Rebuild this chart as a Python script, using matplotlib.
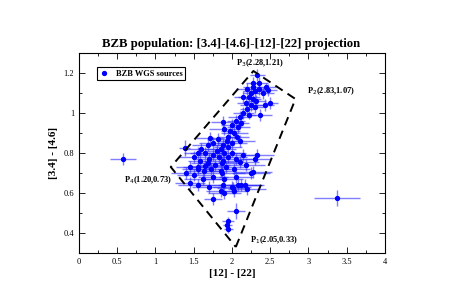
import numpy as np
import matplotlib.pyplot as plt
from matplotlib.ticker import MultipleLocator

plt.rcParams["font.family"] = ["Liberation Serif", "DejaVu Serif"]

# BZB WGS sources: [12]-[22] colour, [3.4]-[4.6] colour and their errors
c12_22 = [2.33, 2.27, 2.30, 2.25, 2.35, 2.22, 2.28, 2.32, 2.40, 2.45,
          2.18, 2.25, 2.20, 2.30, 2.15, 2.22, 2.10, 2.05, 2.12, 2.00,
          2.08, 1.98, 2.03, 1.95, 2.07, 1.93, 2.00, 1.88, 1.95, 2.10,
          1.85, 1.80, 1.90, 2.00, 1.75, 1.83, 1.95, 1.70, 1.65, 1.60,
          1.55, 1.50, 1.58, 1.68, 1.78, 1.88, 2.05, 2.15, 1.45, 1.55,
          1.63, 1.72, 1.85, 1.92, 2.02, 2.18, 2.30, 1.40, 1.50, 1.62,
          1.75, 1.87, 1.90, 2.05, 2.25, 1.45, 1.55, 1.70, 1.88, 2.00,
          2.08, 2.12, 2.20, 1.86, 1.90, 2.02, 1.75, 2.05, 1.95, 1.94,
          1.95, 1.38, 0.57, 3.37, 2.43, 2.37, 2.47, 2.50, 1.90, 1.82,
          1.75, 1.68, 2.15, 2.20, 2.28, 2.35, 1.71, 1.88, 2.33, 2.10,
          1.56, 1.65, 1.87, 2.27, 2.17, 2.01]
c34_46 = [1.19, 1.13, 1.11, 1.10, 1.12, 1.08, 1.07, 1.06, 1.10, 1.13,
          1.05, 1.04, 1.02, 1.03, 1.00, 0.99, 0.98, 0.96, 0.95, 0.94,
          0.93, 0.91, 0.90, 0.88, 0.88, 0.86, 0.85, 0.84, 0.83, 0.86,
          0.82, 0.81, 0.80, 0.80, 0.79, 0.78, 0.78, 0.77, 0.80, 0.82,
          0.80, 0.78, 0.76, 0.75, 0.74, 0.76, 0.77, 0.79, 0.73, 0.72,
          0.71, 0.72, 0.71, 0.73, 0.72, 0.74, 0.77, 0.70, 0.69, 0.67,
          0.68, 0.70, 0.67, 0.68, 0.70, 0.65, 0.64, 0.63, 0.64, 0.63,
          0.64, 0.64, 0.62, 0.61, 0.60, 0.61, 0.57, 0.51, 0.46, 0.44,
          0.42, 0.825, 0.77, 0.575, 1.04, 0.99, 1.115, 1.05, 0.92, 0.87,
          0.85, 0.84, 1.08, 1.12, 1.15, 1.15, 0.875, 0.955, 0.79, 0.755,
          0.73, 0.735, 0.75, 0.705, 0.64, 0.625]
err_x = [0.10, 0.12, 0.15, 0.10, 0.12, 0.14, 0.10, 0.13, 0.15, 0.12,
         0.12, 0.15, 0.10, 0.12, 0.14, 0.10, 0.15, 0.12, 0.10, 0.14,
         0.15, 0.12, 0.18, 0.14, 0.15, 0.12, 0.20, 0.15, 0.18, 0.20,
         0.20, 0.15, 0.22, 0.18, 0.20, 0.15, 0.25, 0.18, 0.20, 0.22,
         0.18, 0.20, 0.15, 0.22, 0.20, 0.25, 0.22, 0.20, 0.18, 0.20,
         0.22, 0.25, 0.20, 0.28, 0.22, 0.25, 0.20, 0.20, 0.22, 0.25,
         0.20, 0.30, 0.25, 0.22, 0.25, 0.20, 0.25, 0.22, 0.30, 0.25,
         0.28, 0.30, 0.25, 0.20, 0.22, 0.18, 0.12, 0.12, 0.08, 0.06,
         0.06, 0.07, 0.17, 0.30, 0.12, 0.15, 0.12, 0.10, 0.20, 0.15,
         0.18, 0.20, 0.12, 0.15, 0.10, 0.12, 0.18, 0.15, 0.22, 0.25,
         0.20, 0.22, 0.25, 0.25, 0.22, 0.20]
err_y = [0.03, 0.03, 0.03, 0.02, 0.03, 0.03, 0.02, 0.03, 0.03, 0.02,
         0.03, 0.03, 0.02, 0.03, 0.03, 0.02, 0.03, 0.03, 0.02, 0.03,
         0.03, 0.03, 0.03, 0.03, 0.02, 0.03, 0.03, 0.03, 0.02, 0.03,
         0.03, 0.03, 0.03, 0.02, 0.03, 0.03, 0.03, 0.03, 0.03, 0.03,
         0.03, 0.03, 0.03, 0.03, 0.03, 0.03, 0.03, 0.03, 0.03, 0.03,
         0.03, 0.03, 0.03, 0.03, 0.03, 0.03, 0.03, 0.03, 0.03, 0.03,
         0.03, 0.03, 0.03, 0.03, 0.03, 0.03, 0.03, 0.03, 0.03, 0.03,
         0.03, 0.03, 0.03, 0.03, 0.03, 0.03, 0.03, 0.04, 0.02, 0.02,
         0.02, 0.04, 0.03, 0.04, 0.03, 0.03, 0.03, 0.03, 0.03, 0.03,
         0.03, 0.03, 0.03, 0.03, 0.03, 0.03, 0.03, 0.03, 0.03, 0.03,
         0.03, 0.03, 0.03, 0.03, 0.03, 0.03]

# vertices of the WGS region
vert_names = ["1", "2", "3", "4"]
vert_x = [2.05, 2.83, 2.28, 1.20]
vert_y = [0.33, 1.07, 1.21, 0.73]
vert_lab_x = [2.23, 2.98, 2.05, 0.59]
vert_lab_y = [0.365, 1.11, 1.25, 0.665]

fig = plt.figure(figsize=(4.63, 3.05), dpi=100)
ax = fig.add_axes([0.1706, 0.1705, 0.6609, 0.6557])

ax.errorbar(c12_22, c34_46, xerr=err_x, yerr=err_y, fmt="none",
            ecolor="#2a2aff", alpha=0.6, elinewidth=1.0, zorder=2)
ax.plot(c12_22, c34_46, "o", color="#0000ff", ms=2.8, zorder=3,
        label="BZB WGS sources")

px = vert_x + [vert_x[0]]
py = vert_y + [vert_y[0]]
ax.plot(px, py, "--", color="black", lw=1.4, dashes=(4.5, 3), zorder=4)
for n, x, y, lx, ly in zip(vert_names, vert_x, vert_y, vert_lab_x, vert_lab_y):
    ax.text(lx, ly, f"P$_{n}$({x:.2f},{y:.2f})", fontsize=6,
            fontweight="bold", ha="left", va="center")

ax.set_xlim(0, 4)
ax.set_ylim(0.3, 1.3)
ax.xaxis.set_major_locator(MultipleLocator(0.5))
ax.xaxis.set_minor_locator(MultipleLocator(0.25))
ax.yaxis.set_major_locator(MultipleLocator(0.2))
ax.yaxis.set_minor_locator(MultipleLocator(0.1))
ax.set_xticks([0, 0.5, 1, 1.5, 2, 2.5, 3, 3.5, 4])
ax.set_xticklabels(["0", "0.5", "1", "1.5", "2", "2.5", "3", "3.5", "4"])
ax.set_yticks([0.4, 0.6, 0.8, 1.0, 1.2])
ax.set_yticklabels(["0.4", "0.6", "0.8", "1", "1.2"])
ax.tick_params(which="both", direction="in", top=True, right=True,
               labelsize=6, width=0.6)
ax.tick_params(which="major", length=4)
ax.tick_params(which="minor", length=2)
for s in ax.spines.values():
    s.set_linewidth(0.8)

ax.set_xlabel("[12] - [22]", fontsize=8, fontweight="bold", labelpad=2)
ax.set_ylabel("[3.4] - [4.6]", fontsize=8, fontweight="bold", labelpad=4)
fig.suptitle("BZB population: [3.4]-[4.6]-[12]-[22] projection",
             fontsize=9.2, fontweight="bold", y=0.875)

leg = ax.legend(loc="upper left", bbox_to_anchor=(0.045, 0.95), fontsize=6,
                prop={"weight": "bold", "size": 6}, handlelength=1.2,
                borderpad=0.3, fancybox=False, framealpha=1,
                edgecolor="black", handletextpad=0.8)
leg.get_frame().set_linewidth(0.8)

plt.savefig("out.png", dpi=100)
